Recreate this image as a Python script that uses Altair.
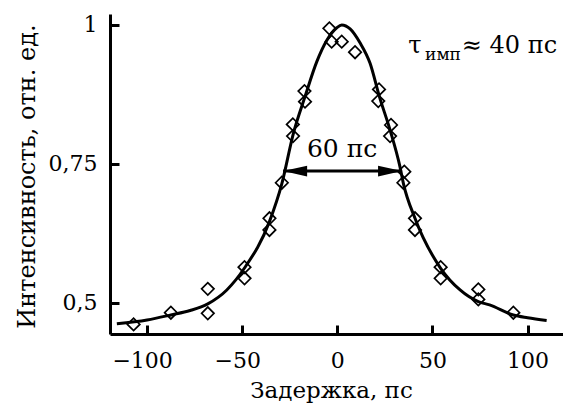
import altair as alt
import pandas as pd

# Measured data points (delay, ps ; intensity, rel. units)
pts_x = [-4.2, -3.0, 2.3, 9.3, 21.9, 21.5, 28.2, 27.7, 35.2, 34.7,
         -17.3, -17.0, -23.4, -23.3, -29.2, -35.7, -35.7, -48.8, -48.8,
         -68.1, -68.1, -87.5, -107.1, 40.8, 40.8, 54.3, 54.3, 74.1, 74.1, 92.5]
pts_y = [0.994, 0.970, 0.970, 0.951, 0.884, 0.863, 0.820, 0.800, 0.736, 0.716,
         0.881, 0.862, 0.821, 0.800, 0.716, 0.652, 0.631, 0.564, 0.544,
         0.525, 0.481, 0.482, 0.461, 0.652, 0.631, 0.564, 0.544, 0.524, 0.506, 0.482]

# Fitted curve
fit_x = [-115.9, -100, -87.5, -77.4, -68.1, -58.1, -48.9, -35.7, -29.2, -23.1,
         -17.0, -10.8, -5.6, -0.3, 2.3, 6.7, 11.9, 17.2, 22.1, 27.7,
         32.9, 34.7, 40.8, 54.3, 64.5, 74.1, 80, 92.5, 100, 110]
fit_y = [0.462, 0.469, 0.478, 0.486, 0.498, 0.523, 0.562, 0.646, 0.714, 0.805,
         0.871, 0.934, 0.972, 0.995, 1.000, 0.993, 0.968, 0.931, 0.871, 0.811,
         0.745, 0.715, 0.652, 0.562, 0.523, 0.502, 0.496, 0.478, 0.473, 0.468]

x_ticks = [-100, -50, 0, 50, 100]
y_ticks = [0.5, 0.75, 1.0]
x_domain = [-119.5, 118.6]
y_domain = [0.4437, 1.0198]

# FWHM arrow and annotation anchors (data units)
fwhm_x = [-28.5, 34.0]
fwhm_y = 0.737
fwhm_label = "60 пс"
fwhm_label_pos = (2.5, 0.763)
tau_parts = ["τ", "имп", "≈ 40 пс"]
tau_x = [37.2, 46.1, 65.4]
tau_y = [0.9496, 0.937, 0.9496]
tau_big = [True, False, True]

FONT = "DejaVu Serif"

xs = alt.Scale(domain=x_domain, nice=False, zero=False)
ys = alt.Scale(domain=y_domain, nice=False, zero=False)

x_axis = alt.Axis(values=x_ticks, title="Задержка, пс", tickSize=0, grid=False,
                  domainWidth=3, domainColor="black", labelFont=FONT, labelFontSize=22,
                  labelColor="black", labelPadding=33, labelBaseline="alphabetic", labelFlush=False,
                  labelOffset={"condition": {"test": "datum.value < 0", "value": -5}, "value": 0},
                  titleFont=FONT, titleFontSize=23, titleFontWeight="normal", titleColor="black",
                  titleX=221, titleY=63, titleBaseline="alphabetic", titleAnchor="middle")
y_axis = alt.Axis(values=y_ticks, title="Интенсивность, отн. ед.", tickSize=0, grid=False,
                  domainWidth=3, domainColor="black", labelFont=FONT, labelFontSize=22,
                  labelColor="black", labelPadding=13, labelFlush=False,
                  labelExpr="replace(toString(datum.value), '.', ',')",
                  titleFont=FONT, titleFontSize=24, titleFontWeight="normal", titleColor="black",
                  titleX=-83, titleY=162, titleBaseline="middle", titleAngle=270)

# tick-only axes drawn inside the plot (negative offset)
x_tick_axis = alt.Axis(values=x_ticks, orient="bottom", offset=-9, tickSize=9, tickWidth=3,
                       tickColor="black", labels=False, domain=False, grid=False, title=None)
y_tick_axis = alt.Axis(values=y_ticks, orient="left", offset=-9, tickSize=9, tickWidth=3,
                       tickColor="black", labels=False, domain=False, grid=False, title=None)

fit_df = pd.DataFrame({"x": fit_x, "y": fit_y})
pts_df = pd.DataFrame({"x": pts_x, "y": pts_y})

X = alt.X("x:Q", scale=xs, axis=x_axis)
Y = alt.Y("y:Q", scale=ys, axis=y_axis)

curve = alt.Chart(fit_df).mark_line(interpolate="monotone", color="black", strokeWidth=3).encode(x=X, y=Y)

points = alt.Chart(pts_df).mark_point(shape="diamond", filled=False, size=155,
                                       strokeWidth=1.7, color="black", opacity=1).encode(x=X, y=Y)

arrow_df = pd.DataFrame({"x": [fwhm_x[0]], "x2": [fwhm_x[1]], "y": [fwhm_y]})
arrow = alt.Chart(arrow_df).mark_rule(color="black", strokeWidth=3).encode(x=X, x2="x2:Q", y=Y)
head_l = alt.Chart(pd.DataFrame({"x": [fwhm_x[0]], "y": [fwhm_y]})).mark_point(
    shape="M0,0L2,-0.45L2,0.45Z", size=576, filled=True, color="black", opacity=1).encode(x=X, y=Y)
head_r = alt.Chart(pd.DataFrame({"x": [fwhm_x[1]], "y": [fwhm_y]})).mark_point(
    shape="M0,0L-2,-0.45L-2,0.45Z", size=576, filled=True, color="black", opacity=1).encode(x=X, y=Y)

lbl = alt.Chart(pd.DataFrame({"x": [fwhm_label_pos[0]], "y": [fwhm_label_pos[1]],
                              "t": [fwhm_label]})).mark_text(
    font=FONT, fontSize=25, align="center", baseline="alphabetic", color="black").encode(
    x=X, y=Y, text="t:N")

tau_df = pd.DataFrame({"x": tau_x, "y": tau_y, "t": tau_parts, "big": tau_big})
tau_main = alt.Chart(tau_df).transform_filter("datum.big").mark_text(
    font=FONT, fontSize=24, align="left", baseline="alphabetic", color="black").encode(
    x=X, y=Y, text="t:N")
tau_sub = alt.Chart(tau_df).transform_filter("!datum.big").mark_text(
    font=FONT, fontSize=17, align="left", baseline="alphabetic", color="black").encode(
    x=X, y=Y, text="t:N")

main = alt.layer(curve, points, arrow, head_l, head_r, lbl, tau_main, tau_sub)

ticks_layer = alt.Chart(fit_df).mark_line(opacity=0).encode(
    x=alt.X("x:Q", scale=xs, axis=x_tick_axis), y=alt.Y("y:Q", scale=ys, axis=y_tick_axis))

chart = alt.layer(main, ticks_layer).resolve_scale(x="independent", y="independent").properties(
    width=453, height=320,
    autosize=alt.AutoSizeParams(type="none"),
    padding={"left": 110, "top": 14, "right": 0, "bottom": 73},
    background="white",
).configure_view(stroke=None)

chart.save("out.html", embed_options={"renderer": "svg", "actions": False})
